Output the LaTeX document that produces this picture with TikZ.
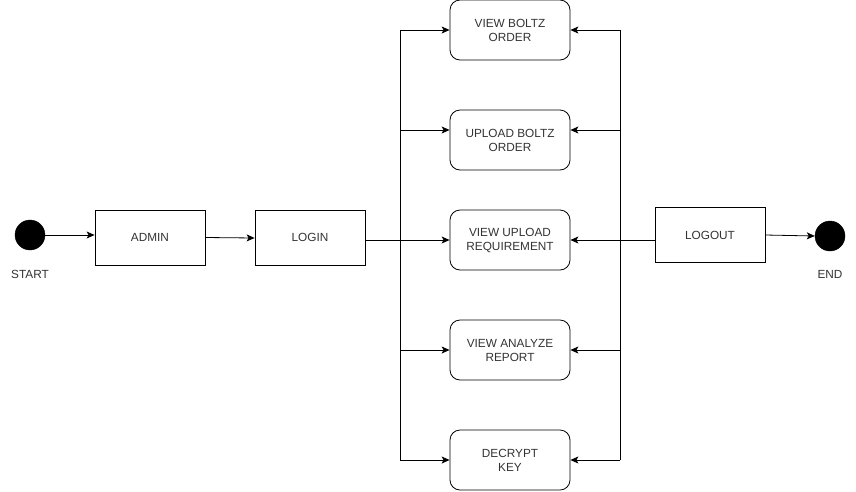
\documentclass[tikz,border=0pt]{standalone}
\usepackage{fontspec}
\setmainfont{Liberation Sans}
\usetikzlibrary{arrows.meta}
\begin{document}
\begin{tikzpicture}[x=1pt,y=-1pt,
  every node/.style={font=\fontsize{11.8}{14}\selectfont, text=black!80, align=center},
  plainbox/.style={draw, line width=0.8pt, minimum width=110pt, minimum height=55pt, inner sep=0pt},
  taskbox/.style={draw, line width=0.8pt, rounded corners=10pt, minimum width=120pt, minimum height=60pt, inner sep=0pt},
  dot/.style={circle, fill=black, draw=black, minimum size=30pt, inner sep=0pt},
  wire/.style={line width=0.8pt},
  arr/.style={wire, -{Stealth[length=8pt, width=7pt, inset=2pt]}}]
\useasboundingbox (0,0) rectangle (856,491);

% start / end markers
\node[dot] (start) at (30,235) {};
\node at (30,274) (startlbl) {START};
\node[dot] (end) at (830,236) {};
\node at (830,274) (endlbl) {END};

% left-hand chain
\node[plainbox] (admin) at (150,237.5) {ADMIN};
\node[plainbox] (login) at (310,237.5) {LOGIN};
\node[plainbox] (logout) at (710,235) {LOGOUT};

% admin tasks
\node[taskbox] (vbo) at (510,30) {VIEW BOLTZ\\ORDER};
\node[taskbox] (ubo) at (510,140) {UPLOAD BOLTZ\\ORDER};
\node[taskbox] (vur) at (510,240) {VIEW UPLOAD\\REQUIREMENT};
\node[taskbox] (var) at (510,350) {VIEW ANALYZE\\REPORT};
\node[taskbox] (dk) at (510,460) {DECRYPT\\KEY};

% entry points on the task boxes
\coordinate (ubo-in) at ([yshift=10pt]ubo.west);
\coordinate (ubo-out) at ([yshift=10pt]ubo.east);

% bus lines
\coordinate (busL) at (400,0);
\coordinate (busR) at (620,0);

\draw[arr] (start.east) -- (admin.west |- start.east);
\draw[arr] (admin.east) -- (login.west |- 0,238);
\draw[wire] (login.east |- vur.west) -- (busL |- vur.west);
\draw[wire] (busL |- vbo.west) -- (busL |- dk.west);
\draw[wire] (busR |- vbo.east) -- (busR |- dk.east);
\draw[wire] (logout.west |- vur.east) -- (busR |- vur.east);

\foreach \t in {vbo,vur,var,dk}{
  \draw[arr] (busL |- \t.west) -- (\t.west);
  \draw[arr] (busR |- \t.east) -- (\t.east);
}
\draw[arr] (busL |- ubo-in) -- (ubo-in);
\draw[arr] (busR |- ubo-out) -- (ubo-out);

\draw[arr] (logout.east) -- (end.west);
\end{tikzpicture}
\end{document}
